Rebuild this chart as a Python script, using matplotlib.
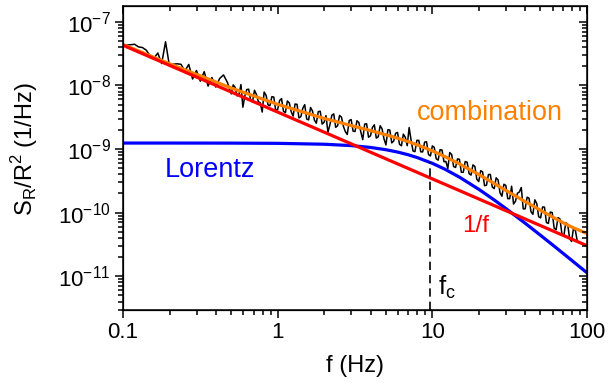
import numpy as np
import matplotlib
matplotlib.use("Agg")
import matplotlib.pyplot as plt

plt.rcParams["font.family"] = ["Liberation Sans", "DejaVu Sans"]

# measured noise spectrum (frequency in Hz, log10 of S_R/R^2)
freq = [0.1, 0.1059, 0.1122, 0.1189, 0.1259, 0.1334, 0.1413, 0.1496, 0.1585, 0.1679,
        0.1778, 0.1884, 0.1995, 0.2113, 0.2239, 0.2371, 0.2512, 0.2661, 0.2818, 0.2985,
        0.3162, 0.3350, 0.3548, 0.3758, 0.3981, 0.4217, 0.4467, 0.4732, 0.5012, 0.5309,
        0.5623, 0.5957, 0.6310, 0.6683, 0.7079, 0.7499, 0.7943, 0.8414, 0.8913, 0.9441,
        1.0, 1.059, 1.122, 1.189, 1.259, 1.334, 1.413, 1.496, 1.585, 1.679,
        1.778, 1.884, 1.995, 2.113, 2.239, 2.371, 2.512, 2.661, 2.818, 2.985,
        3.162, 3.350, 3.548, 3.758, 3.981, 4.217, 4.467, 4.732, 5.012, 5.309,
        5.623, 5.957, 6.310, 6.683, 7.079, 7.499, 7.943, 8.414, 8.913, 9.441,
        10.0, 10.59, 11.22, 11.89, 12.59, 13.34, 14.13, 14.96, 15.85, 16.79,
        17.78, 18.84, 19.95, 21.13, 22.39, 23.71, 25.12, 26.61, 28.18, 29.85,
        31.62, 33.50, 35.48, 37.58, 39.81, 42.17, 44.67, 47.32, 50.12, 53.09,
        56.23, 59.57, 63.10, 66.83, 70.79, 74.99, 79.43, 84.14, 89.13]
psd_exp = [-7.357, -7.366, -7.361, -7.354, -7.395, -7.405, -7.446, -7.534, -7.575, -7.491,
           -7.657, -7.315, -7.690, -7.667, -7.661, -7.669, -7.773, -7.671, -7.900, -7.767,
           -7.934, -7.784, -8.011, -7.877, -8.026, -7.891, -7.836, -7.954, -8.134, -8.032,
           -8.149, -8.343, -8.066, -8.229, -8.077, -8.256, -8.419, -8.156, -8.319, -8.184,
           -8.378, -8.208, -8.430, -8.276, -8.483, -8.298, -8.490, -8.303, -8.542, -8.403,
           -8.595, -8.407, -8.580, -8.739, -8.471, -8.660, -8.472, -8.645, -8.772, -8.537,
           -8.726, -8.585, -8.853, -8.603, -8.792, -8.620, -8.809, -8.684, -8.936, -8.702,
           -8.875, -8.740, -8.950, -8.814, -8.663, -9.031, -8.864, -9.044, -8.892, -9.087,
           -8.951, -9.154, -9.011, -9.200, -9.308, -9.087, -9.290, -9.162, -9.366, -9.208,
           -9.411, -9.274, -9.513, -9.360, -9.568, -9.400, -9.624, -9.487, -9.742, -9.573,
           -9.781, -9.865, -9.695, -9.605, -9.940, -9.772, -10.027, -9.858, -10.083, -9.914,
           -10.170, -9.999, -10.269, -10.099, -10.369, -10.183, -10.453, -10.282, -10.473]
# extra samples lying between the ones above (denser part of the spectrum)
freq_mid = [0.5158, 0.5464, 0.5788, 0.6131, 0.6494, 0.6879, 0.7286, 0.7718, 0.8175, 0.8660,
            0.9173, 0.9716, 1.0292, 1.0902, 1.1548, 1.2232, 1.2957, 1.3725, 1.4538, 1.5399,
            1.6312, 1.7278, 1.8302, 1.9387, 2.0535, 2.1752, 2.3041, 2.4406, 2.5852, 2.7384,
            2.9007, 3.0726, 3.2546, 3.4475, 3.6517, 3.8681, 4.0973, 4.3401, 4.5973, 4.8697,
            5.1582, 5.4639, 5.7876, 6.1306, 6.4938, 6.8786, 7.2862, 7.7179, 8.1752, 8.6596,
            9.1728, 9.7163, 10.292, 10.902, 11.548, 12.232, 12.957, 13.725, 14.538, 15.399,
            16.312, 17.278, 18.302, 19.387, 20.535, 21.752, 23.041, 24.406, 25.852, 27.384,
            29.007, 30.726, 32.546, 34.475, 36.517, 38.681, 40.973, 43.401, 45.973, 48.697,
            51.582, 54.639, 57.876, 61.306, 64.938, 68.786, 72.862, 77.179, 81.752, 86.596]
psd_mid_exp = [-7.992, -8.165, -7.987, -8.168, -8.060, -8.261, -8.142, -8.274, -8.105, -8.306,
               -8.177, -8.399, -8.239, -8.407, -8.246, -8.414, -8.293, -8.512, -8.360, -8.529,
               -8.347, -8.546, -8.413, -8.609, -8.476, -8.622, -8.448, -8.634, -8.500, -8.727,
               -8.553, -8.719, -8.556, -8.732, -8.609, -8.815, -8.662, -8.828, -8.635, -8.841,
               -8.698, -8.904, -8.753, -8.925, -8.767, -8.948, -8.860, -9.042, -8.864, -9.046,
               -8.887, -9.109, -8.975, -9.175, -9.016, -9.196, -9.056, -9.276, -9.156, -9.367,
               -9.197, -9.387, -9.250, -9.476, -9.341, -9.577, -9.402, -9.598, -9.453, -9.689,
               -9.554, -9.780, -9.585, -9.821, -9.676, -9.942, -9.758, -9.984, -9.799, -10.065,
               -9.911, -10.156, -9.991, -10.245, -10.079, -10.333, -10.157, -10.411, -10.245, -10.459]

# fitted curves
curve_f = [0.1, 0.2, 0.5, 1, 2, 3, 4, 5, 6, 7, 8, 10, 12, 15, 20, 25, 30, 40, 50, 60, 70, 80, 100]
lorentz = [1.24e-9, 1.24e-9, 1.237e-9, 1.227e-9, 1.188e-9, 1.130e-9, 1.057e-9, 9.75e-10,
           8.92e-10, 8.10e-10, 7.32e-10, 5.95e-10, 4.84e-10, 3.60e-10, 2.32e-10, 1.593e-10,
           1.152e-10, 6.75e-11, 4.41e-11, 3.10e-11, 2.29e-11, 1.76e-11, 1.132e-11]
combination = [4.39e-8, 2.184e-8, 9.10e-9, 5.03e-9, 3.02e-9, 2.33e-9, 1.943e-9, 1.676e-9,
               1.471e-9, 1.303e-9, 1.160e-9, 9.34e-10, 7.64e-10, 5.81e-10, 3.96e-10, 2.89e-10,
               2.22e-10, 1.48e-10, 1.09e-10, 8.5e-11, 6.95e-11, 5.9e-11, 4.7e-11]
onef_f = [0.1, 100]
onef = [4.27e-8, 3.02e-11]
fc = 9.6
fc_level = 6.2e-10

RED = "#ff0000"
BLUE = "#0000ff"
ORANGE = "#ff8000"

f_all = np.array(freq + freq_mid)
s_all = 10.0 ** np.array(psd_exp + psd_mid_exp)
order = np.argsort(f_all)

fig = plt.figure(figsize=(6.08, 3.88), dpi=100)
ax = fig.add_axes([0.2023, 0.2023, 0.7632, 0.7835])

ylo, yhi = 3e-12, 1.8e-7
ax.plot(f_all[order], s_all[order], color="black", lw=1.1)
ax.plot(curve_f, lorentz, color=BLUE, lw=2.3)
ax.plot(curve_f, combination, color=ORANGE, lw=2.3)
ax.plot(onef_f, onef, color=RED, lw=2.3)
ax.plot([fc, fc], [ylo, fc_level], color="black", lw=1.2, ls=(0, (5, 3)))

ax.set_xscale("log")
ax.set_yscale("log")
ax.set_xlim(0.1, 100)
ax.set_ylim(ylo, yhi)
ax.set_xticks([0.1, 1, 10, 100], ["0.1", "1", "10", "100"])

ax.tick_params(which="both", direction="out", labelsize=16, width=1.1)
ax.tick_params(which="major", length=6, pad=3)
ax.tick_params(which="minor", length=3.5)
for s in ax.spines.values():
    s.set_linewidth(1.1)

# inward ticks on top and right
axr = ax.twinx()
axr.set_yscale("log")
axr.set_ylim(ylo, yhi)
axr.tick_params(which="both", direction="in", labelright=False, width=1.1)
axr.tick_params(which="major", length=6)
axr.tick_params(which="minor", length=3.5)
axt = ax.twiny()
axt.set_xscale("log")
axt.set_xlim(0.1, 100)
axt.set_xticks([0.1, 1, 10, 100])
axt.tick_params(which="both", direction="in", labeltop=False, width=1.1)
axt.tick_params(which="major", length=6)
axt.tick_params(which="minor", length=3.5)

ax.text(7.91, 2.83e-9, "combination", color=ORANGE, fontsize=19.5, ha="left", va="baseline")
ax.text(0.187, 3.62e-10, "Lorentz", color=BLUE, fontsize=19.5, ha="left", va="baseline")
ax.text(15.47, 4.93e-11, "1/f", color=RED, fontsize=17.5, ha="left", va="baseline")
ax.text(10.87, 5.15e-12, "f$_\\mathdefault{c}$", color="black", fontsize=18.5, ha="left", va="baseline")

ax.set_xlabel("f (Hz)", fontsize=17)
ax.set_ylabel("S$_\\mathdefault{R}$/R$^\\mathdefault{2}$ (1/Hz)", fontsize=17)
ax.xaxis.set_label_coords(0.5, -0.15)
ax.yaxis.set_label_coords(-0.179, 0.529)

fig.savefig("out.png", dpi=100)
